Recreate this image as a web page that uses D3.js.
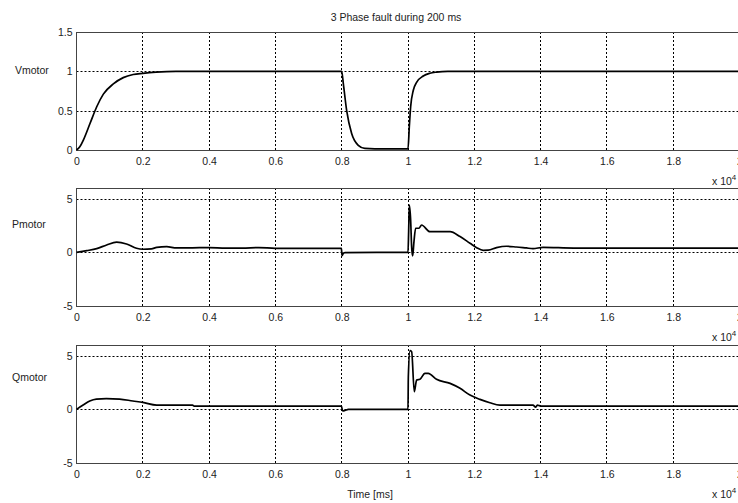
<!DOCTYPE html>
<html>
<head>
<meta charset="utf-8">
<script src="https://cdn.jsdelivr.net/npm/d3@7"></script>
<style>
  html, body { margin: 0; padding: 0; background: #fff; overflow: hidden; }
  svg { display: block; }
  text { font-family: "Liberation Sans", Arial, sans-serif; fill: #222; }
</style>
</head>
<body>
<svg id="chart" width="738" height="503"></svg>
<script>
// ---- data (time in units of x10^4 ms) ----
const title = "3 Phase fault during 200 ms";
const xLabel = "Time [ms]";
const xTicks = [0, 0.2, 0.4, 0.6, 0.8, 1, 1.2, 1.4, 1.6, 1.8, 2];

const vTime = [0, 0.01, 0.021, 0.041, 0.061, 0.081, 0.111, 0.141, 0.171, 0.2, 0.24, 0.3, 0.8, 0.805, 0.815, 0.83, 0.85, 0.87, 0.9, 1.0, 1.004, 1.008, 1.016, 1.026, 1.046, 1.066, 1.086, 1.12, 2.0];
const vValues = [0, 0.04, 0.13, 0.34, 0.55, 0.71, 0.84, 0.92, 0.96, 0.975, 0.99, 1.0, 1.0, 0.84, 0.5, 0.21, 0.06, 0.02, 0.015, 0.015, 0.3, 0.55, 0.76, 0.86, 0.94, 0.975, 0.99, 1.0, 1.0];
const vTicks = [0, 0.5, 1, 1.5];

const pTime = [0, 0.031, 0.061, 0.091, 0.121, 0.151, 0.181, 0.2, 0.226, 0.242, 0.272, 0.302, 0.35, 0.4, 0.45, 0.5, 0.55, 0.6, 0.7, 0.799, 0.801, 0.806, 0.81, 1.0, 1.002, 1.004, 1.008, 1.011, 1.014, 1.018, 1.023, 1.033, 1.041, 1.066, 1.10, 1.127, 1.157, 1.187, 1.207, 1.227, 1.242, 1.267, 1.297, 1.327, 1.357, 1.377, 1.407, 1.5, 1.6, 1.7, 1.8, 1.9, 2.0];
const pValues = [0, 0.16, 0.35, 0.69, 0.95, 0.78, 0.38, 0.29, 0.32, 0.47, 0.53, 0.41, 0.42, 0.45, 0.4, 0.4, 0.45, 0.38, 0.38, 0.38, -0.3, -0.05, -0.02, 0, 2.0, 4.4, 3.0, 0.5, -0.34, 1.0, 2.25, 2.25, 2.55, 1.93, 1.93, 1.93, 1.47, 0.85, 0.44, 0.19, 0.2, 0.44, 0.57, 0.5, 0.41, 0.35, 0.47, 0.4, 0.4, 0.4, 0.4, 0.4, 0.4];

const qTime = [0, 0.02, 0.04, 0.06, 0.09, 0.13, 0.17, 0.2, 0.242, 0.35, 0.355, 0.799, 0.803, 0.81, 0.82, 1.0, 1.001, 1.006, 1.011, 1.019, 1.026, 1.036, 1.051, 1.061, 1.086, 1.127, 1.157, 1.187, 1.217, 1.247, 1.277, 1.377, 1.385, 1.39, 1.40, 2.0];
const qValues = [0, 0.4, 0.78, 0.96, 1.0, 0.96, 0.78, 0.65, 0.4, 0.4, 0.3, 0.3, -0.15, -0.1, 0, 0, 3.04, 5.47, 5.37, 1.64, 2.73, 2.8, 3.36, 3.36, 2.8, 2.42, 1.96, 1.33, 0.93, 0.62, 0.4, 0.4, 0.2, 0.4, 0.3, 0.3];
const pqTicks = [-5, 0, 5];

const panels = [
  { name: "Vmotor", time: vTime, values: vValues, domain: [0, 1.5], ticks: vTicks, top: 32, labelY: 71 },
  { name: "Pmotor", time: pTime, values: pValues, domain: [-5, 6], ticks: pqTicks, top: 188, labelY: 225 },
  { name: "Qmotor", time: qTime, values: qValues, domain: [-5, 6], ticks: pqTicks, top: 345, labelY: 378 }
];

// ---- layout ----
const svg = d3.select("#chart");
const left = 76.5, right = 739.5, panelH = 118;
const x = d3.scaleLinear().domain([0, 2]).range([left, right]);
const fmt = d => (d === 0 || d === 1 || d === 2) ? String(d) : d3.format(".1f")(d);

svg.append("text").attr("x", 396).attr("y", 18).attr("text-anchor", "middle")
  .attr("dominant-baseline", "middle").attr("font-size", 10.5).text(title);

panels.forEach((p, i) => {
  const y = d3.scaleLinear().domain(p.domain).range([p.top + panelH, p.top]);
  const g = svg.append("g");

  // grid
  g.selectAll(".vg").data(xTicks.filter(t => t > 0 && t < 2)).enter().append("line")
    .attr("x1", d => x(d)).attr("x2", d => x(d)).attr("y1", p.top).attr("y2", p.top + panelH)
    .attr("stroke", "#000").attr("stroke-width", 1).attr("stroke-dasharray", "2,2").attr("shape-rendering", "crispEdges");
  g.selectAll(".hg").data(p.ticks.filter(t => t > p.domain[0] && t < p.domain[1])).enter().append("line")
    .attr("x1", left).attr("x2", right).attr("y1", d => Math.round(y(d)) + 0.5).attr("y2", d => Math.round(y(d)) + 0.5)
    .attr("stroke", "#000").attr("stroke-width", 1).attr("stroke-dasharray", "2,2");

  // box
  g.append("rect").attr("x", left).attr("y", p.top).attr("width", right - left).attr("height", panelH)
    .attr("fill", "none").attr("stroke", "#444").attr("stroke-width", 1).attr("shape-rendering", "crispEdges");

  // axes
  const yAxis = d3.axisLeft(y).tickValues(p.ticks).tickSize(0).tickPadding(4).tickFormat(d => String(d));
  const ya = g.append("g").attr("transform", `translate(${left},0)`).call(yAxis);
  ya.select(".domain").remove();
  ya.selectAll("text").attr("font-size", 10.5).attr("fill", "#222").attr("font-family", "Liberation Sans, Arial, sans-serif");

  const xAxis = d3.axisBottom(x).tickValues(xTicks).tickSize(0).tickPadding(8).tickFormat(fmt);
  const xa = g.append("g").attr("transform", `translate(0,${p.top + panelH})`).call(xAxis);
  xa.select(".domain").remove();
  xa.selectAll("text").attr("font-size", 10.5).attr("fill", "#222").attr("font-family", "Liberation Sans, Arial, sans-serif");

  // exponent label
  const ex = g.append("text").attr("x", 712).attr("y", p.top + panelH + 35).attr("font-size", 10.5);
  ex.append("tspan").text("x 10");
  ex.append("tspan").attr("dy", -5).attr("font-size", 8).text("4");

  // y label
  g.append("text").attr("x", i === 0 ? 15 : 12).attr("y", p.labelY).attr("dominant-baseline", "middle")
    .attr("font-size", 10.5).text(p.name);

  // series
  const data = p.time.map((t, k) => [t, p.values[k]]);
  const line = d3.line().x(d => x(d[0])).y(d => y(d[1])).curve(d3.curveMonotoneX);
  g.append("path").datum(data).attr("d", line).attr("fill", "none")
    .attr("stroke", "#000").attr("stroke-width", 1.7).attr("stroke-linejoin", "round");
});

svg.append("text").attr("x", 370).attr("y", 495).attr("text-anchor", "middle")
  .attr("dominant-baseline", "middle").attr("font-size", 10.5).text(xLabel);
</script>
</body>
</html>
